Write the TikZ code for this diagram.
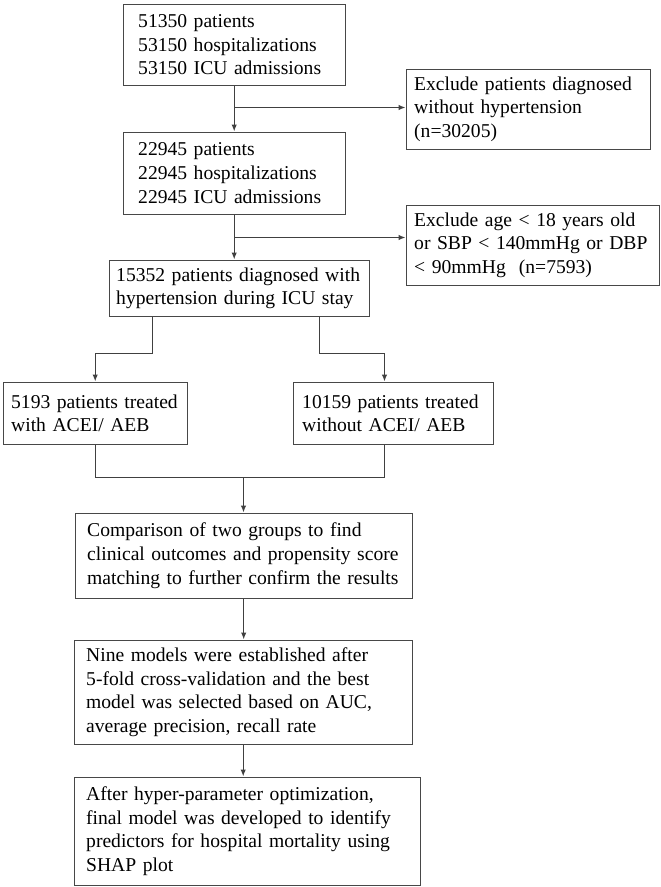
\documentclass[tikz,border=0pt]{standalone}
\usepackage{fontspec}
\setmainfont{Liberation Serif}
\usetikzlibrary{arrows.meta,calc}
\tikzset{
  box/.style={draw=black!72, line width=1.4pt, rectangle, anchor=north west,
    inner ysep=0pt, align=left, font=\fontsize{19.6}{23.7}\selectfont, text=black},
  arr/.style={draw=black!75, line width=1.2pt, -{Latex[length=7pt,width=5.5pt]}},
  ln/.style={draw=black!75, line width=1.2pt},
}
\begin{document}
\begin{tikzpicture}[x=1pt,y=-1pt,shift={(0.5,0.5)}]
\useasboundingbox (-0.5,-0.5) rectangle (660.5,886.5);
\node[box, minimum height=81pt, text width=192pt, inner xsep=15pt] (b1) at (122,3)
  {\mbox{51350 patients}\\\mbox{53150 hospitalizations}\\\mbox{53150 ICU admissions}};
\node[box, minimum height=80pt, text width=228pt, inner xsep=8pt] (e1) at (405,68)
  {\mbox{Exclude patients diagnosed}\\\mbox{without hypertension}\\\mbox{(n=30205)}};
\node[box, minimum height=82pt, text width=192pt, inner xsep=15pt] (b2) at (122,131)
  {\mbox{22945 patients}\\\mbox{22945 hospitalizations}\\\mbox{22945 ICU admissions}};
\node[box, minimum height=80pt, text width=237pt, inner xsep=8pt] (e2) at (405,204)
  {\mbox{Exclude age < 18 years old}\\\mbox{or SBP < 140mmHg or DBP}\\\mbox{< 90mmHg\ \ (n=7593)}};
\node[box, minimum height=56pt, text width=246pt, inner xsep=7pt] (b3) at (108,259)
  {\mbox{15352 patients diagnosed with}\\\mbox{hypertension during ICU stay}};
\node[box, minimum height=62pt, text width=168pt, inner xsep=8pt] (g1) at (2,381)
  {\mbox{5193 patients treated}\\\mbox{with ACEI/ AEB}};
\node[box, minimum height=62pt, text width=182pt, inner xsep=9pt] (g2) at (292,381)
  {\mbox{10159 patients treated}\\\mbox{without ACEI/ AEB}};
\node[box, minimum height=85pt, text width=313pt, inner xsep=12pt] (cmp) at (74,512)
  {\mbox{Comparison of two groups to find}\\\mbox{clinical outcomes and propensity score}\\\mbox{matching to further confirm the results}};
\node[box, minimum height=104pt, text width=314pt, inner xsep=12pt] (nine) at (73,639)
  {\mbox{Nine models were established after}\\\mbox{5-fold cross-validation and the best}\\\mbox{model was selected based on AUC,}\\\mbox{average precision, recall rate}};
\node[box, minimum height=108pt, text width=322pt, inner xsep=12pt] (aft) at (73,776)
  {\mbox{After hyper-parameter optimization,}\\\mbox{final model was developed to identify}\\\mbox{predictors for hospital mortality using}\\\mbox{SHAP plot}};
% connectors
\draw[arr] (b1.south) -- (b2.north);
\coordinate (j1) at (b1.south |- 0,107);
\draw[arr] (j1) -- (j1 -| e1.west);
\draw[arr] (b2.south) -- (b2.south |- b3.north);
\coordinate (j2) at (b2.south |- 0,237);
\draw[arr] (j2) -- (j2 -| e2.west);
\coordinate (s1) at (152,353);
\coordinate (s2) at (319,353);
\coordinate (t2) at (384,353);
\draw[arr] (s1 |- b3.south) -- (s1) -| (g1.north);
\draw[arr] (s2 |- b3.south) -- (s2) -- (t2) -- (t2 |- g2.north);
\coordinate (m) at (243,477);
\draw[ln] (g1.south) -- (g1.south |- m) -- (t2 |- m) -- (t2 |- g2.south);
\draw[arr] (m) -- (m |- cmp.north);
\draw[arr] (cmp.south) -- (cmp.south |- nine.north);
\draw[arr] (nine.south) -- (nine.south |- aft.north);
\end{tikzpicture}
\end{document}
